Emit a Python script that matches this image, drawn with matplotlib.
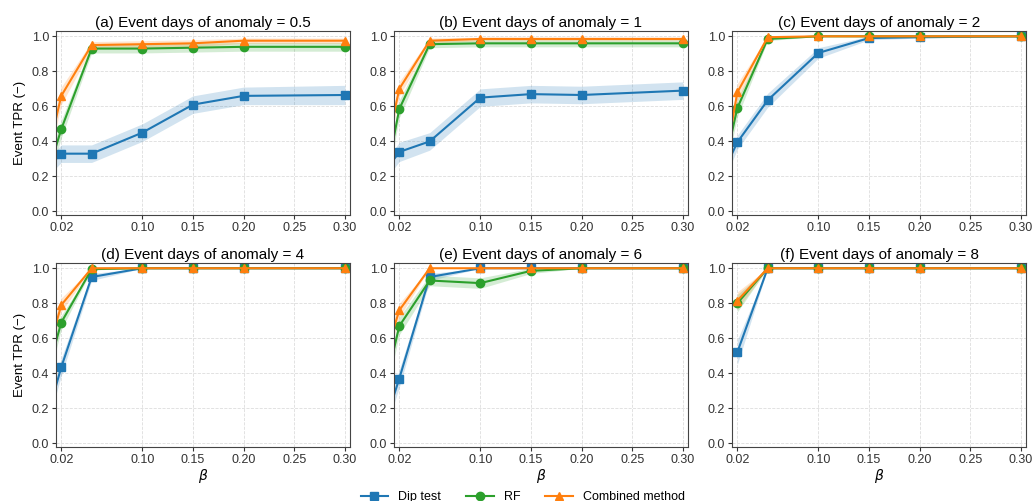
import numpy as np
import matplotlib
matplotlib.use("Agg")
import matplotlib.pyplot as plt

plt.rcParams.update({"font.family": ["Liberation Sans", "DejaVu Sans"], "font.size": 9,
                     "axes.edgecolor": "#444444", "xtick.color": "#333333", "ytick.color": "#333333"})

# beta values (0.01 sits just left of the visible axis range)
beta = [0.01, 0.02, 0.05, 0.10, 0.15, 0.20, 0.30]
titles = ["(a) Event days of anomaly = 0.5", "(b) Event days of anomaly = 1",
          "(c) Event days of anomaly = 2", "(d) Event days of anomaly = 4",
          "(e) Event days of anomaly = 6", "(f) Event days of anomaly = 8"]
nan = np.nan

dip_tpr = [[0.27, 0.33, 0.33, 0.45, 0.61, 0.66, 0.665],
           [0.26, 0.34, 0.40, 0.65, 0.67, 0.665, 0.69],
           [0.27, 0.395, 0.635, 0.905, 0.99, 0.995, 1.0],
           [0.23, 0.435, 0.95, 1.0, 1.0, 1.0, 1.0],
           [0.19, 0.37, 0.95, 1.0, 1.0, 1.0, 1.0],
           [nan, 0.52, 1.0, 1.0, 1.0, 1.0, 1.0]]
dip_err = [[0.05, 0.05, 0.05, 0.05, 0.05, 0.05, 0.055],
           [0.05, 0.055, 0.05, 0.05, 0.05, 0.05, 0.05],
           [0.05, 0.04, 0.04, 0.03, 0.01, 0.005, 0.0],
           [0.05, 0.05, 0.02, 0.0, 0.0, 0.0, 0.0],
           [0.05, 0.05, 0.02, 0.0, 0.0, 0.0, 0.0],
           [nan, 0.07, 0.0, 0.0, 0.0, 0.0, 0.0]]
rf_tpr = [[0.28, 0.47, 0.93, 0.93, 0.935, 0.94, 0.94],
          [0.285, 0.585, 0.955, 0.96, 0.96, 0.96, 0.96],
          [0.33, 0.59, 0.985, 1.0, 1.0, 1.0, 1.0],
          [0.48, 0.69, 0.995, 1.0, 1.0, 1.0, 1.0],
          [0.42, 0.67, 0.93, 0.915, 0.985, 1.0, 1.0],
          [nan, 0.80, 1.0, 1.0, 1.0, 1.0, 1.0]]
rf_err = [[0.06, 0.05, 0.025, 0.025, 0.025, 0.025, 0.025],
          [0.06, 0.05, 0.02, 0.02, 0.02, 0.02, 0.02],
          [0.06, 0.05, 0.01, 0.0, 0.0, 0.0, 0.0],
          [0.06, 0.04, 0.005, 0.0, 0.0, 0.0, 0.0],
          [0.06, 0.05, 0.03, 0.03, 0.015, 0.0, 0.0],
          [nan, 0.05, 0.0, 0.0, 0.0, 0.0, 0.0]]
comb_tpr = [[0.41, 0.66, 0.95, 0.955, 0.96, 0.975, 0.975],
            [0.43, 0.70, 0.975, 0.985, 0.985, 0.985, 0.985],
            [0.35, 0.68, 0.995, 1.0, 1.0, 1.0, 1.0],
            [0.58, 0.79, 1.0, 1.0, 1.0, 1.0, 1.0],
            [0.57, 0.76, 1.0, 1.0, 1.0, 1.0, 1.0],
            [nan, 0.815, 1.0, 1.0, 1.0, 1.0, 1.0]]
comb_err = [[0.06, 0.05, 0.02, 0.02, 0.02, 0.015, 0.015],
            [0.06, 0.04, 0.015, 0.01, 0.01, 0.01, 0.01],
            [0.06, 0.05, 0.005, 0.0, 0.0, 0.0, 0.0],
            [0.06, 0.04, 0.0, 0.0, 0.0, 0.0, 0.0],
            [0.06, 0.04, 0.0, 0.0, 0.0, 0.0, 0.0],
            [nan, 0.05, 0.0, 0.0, 0.0, 0.0, 0.0]]

series = [("Dip test", dip_tpr, dip_err, "#1f77b4", "s"),
          ("RF", rf_tpr, rf_err, "#2ca02c", "o"),
          ("Combined method", comb_tpr, comb_err, "#ff7f0e", "^")]
xticks = [0.02, 0.10, 0.15, 0.20, 0.25, 0.30]

fig, axes = plt.subplots(2, 3, figsize=(10.33, 5.01), dpi=100)
fig.subplots_adjust(left=0.0542, right=0.9932, top=0.938, bottom=0.108, wspace=0.15, hspace=0.261)
x = np.array(beta)
for p, ax in enumerate(axes.flat):
    for name, tpr, err, c, m in series:
        y = np.array(tpr[p]); e = np.array(err[p])
        ax.fill_between(x, y - e, y + e, color=c, alpha=0.2, lw=0)
        ax.plot(x, y, color=c, marker=m, ms=6, lw=1.5, label=name)
    ax.set_xlim(0.0148, 0.305); ax.set_ylim(-0.02, 1.03)
    ax.set_xticks(xticks); ax.set_xticklabels([f"{v:.2f}" for v in xticks])
    ax.set_yticks(np.arange(0, 1.01, 0.2)); ax.set_yticklabels([f"{v:.1f}" for v in np.arange(0, 1.01, 0.2)])
    ax.grid(True, color="#dddddd", ls="--", lw=0.6)
    ax.set_axisbelow(True)
    ax.tick_params(length=3, width=0.8, labelsize=9, pad=2)
    ax.set_title(titles[p], fontsize=11, pad=3)
    if p % 3 == 0:
        ax.set_ylabel("Event TPR (\u2212)", fontsize=9.5)
    if p >= 3:
        ax.set_xlabel(r"$\beta$", fontsize=10, labelpad=1)

h, l = axes[0, 0].get_legend_handles_labels()
fig.legend(h, l, loc="center", bbox_to_anchor=(0.506, 0.008), ncol=3, frameon=False,
           fontsize=9, handlelength=2.2, columnspacing=2.0)
fig.savefig("out.png")
